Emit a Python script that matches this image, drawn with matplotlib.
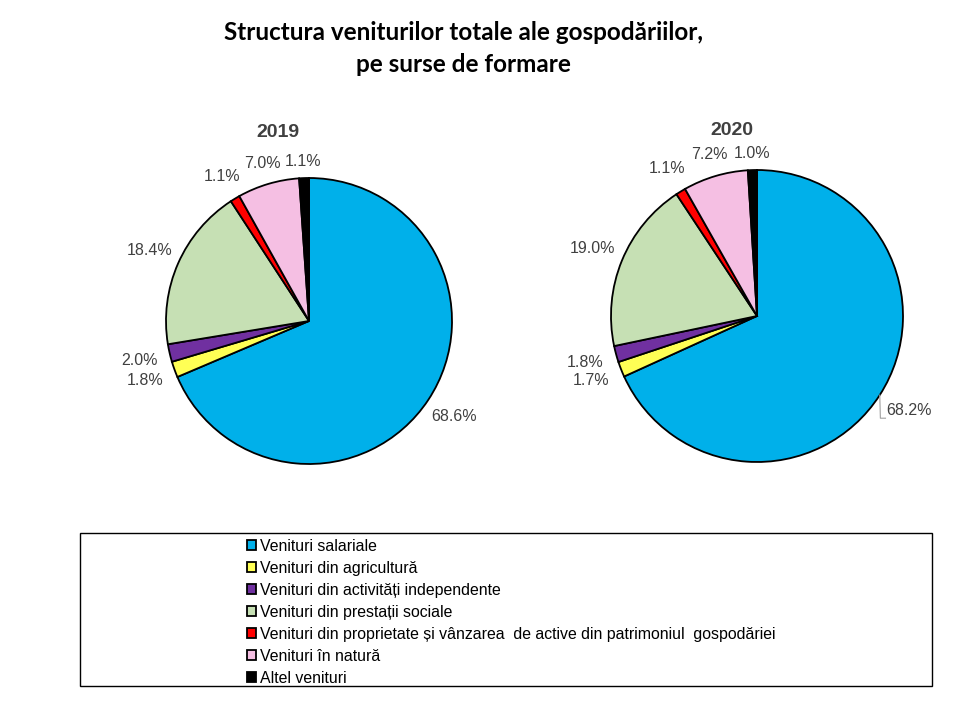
import numpy as np
import matplotlib
matplotlib.use('Agg')
from matplotlib import pyplot as plt
from matplotlib.patches import Rectangle

labels = ['Venituri salariale', 'Venituri din agricultură', 'Venituri din activități independente',
          'Venituri din prestații sociale',
          'Venituri din proprietate și vânzarea  de active din patrimoniul  gospodăriei',
          'Venituri în natură', 'Altel venituri']
years = ['2019', '2020']
values_2019 = [68.6, 1.8, 2.0, 18.4, 1.1, 7.0, 1.1]
values_2020 = [68.2, 1.7, 1.8, 19.0, 1.1, 7.2, 1.0]
colors = ['#00B0EA', '#FFFF55', '#7030A0', '#C6E0B4', '#FF0000', '#F5BFE3', '#000000']

W, H = 971, 704
fig = plt.figure(figsize=(W / 100, H / 100), dpi=100)
txtcol = '#404040'


def pie_axes(cx, cy, r):
    half = 1.5 * r
    ax = fig.add_axes([(cx - half) / W, (H - cy - half) / H, 2 * half / W, 2 * half / H])
    return ax


fig.text(463 / W, 1 - 33 / H, 'Structura veniturilor totale ale gospodăriilor,', ha='center', va='center',
         fontsize=17.5, fontweight='bold', family='Lato')
fig.text(463 / W, 1 - 65 / H, 'pe surse de formare', ha='center', va='center',
         fontsize=17.5, fontweight='bold', family='Lato')

wedges_first = None
for i, (vals, cx, cy, r, tx, ty) in enumerate([(values_2019, 309, 321, 143, -0.22, 1.32),
                                               (values_2020, 757, 316, 146, -0.17, 1.27)]):
    ax = pie_axes(cx, cy, r)
    wedges, texts, auto = ax.pie(vals, colors=colors, startangle=90, counterclock=False,
                                 autopct='%.1f%%', pctdistance=1.21, normalize=True,
                                 wedgeprops=dict(edgecolor='black', linewidth=1.3),
                                 textprops=dict(color=txtcol, fontsize=11.5, family='Liberation Sans'))
    ax.set_xlim(-1.5, 1.5)
    ax.set_ylim(-1.5, 1.5)
    ax.set_aspect('equal')
    ax.axis('off')
    if wedges_first is None:
        wedges_first = wedges
    # put each label just outside the circle, like a text box touching a ring
    for w, t in zip(wedges, auto):
        a = np.deg2rad((w.theta1 + w.theta2) / 2)
        d = 1.06 + 0.15 * abs(np.cos(a)) + 0.05 * abs(np.sin(a))
        t.set_position((d * np.cos(a), d * np.sin(a)))
    ax.text(tx, ty, years[i], ha='center', va='center', fontsize=14, fontweight='bold',
            color=txtcol, family='Liberation Sans')
    if i == 1:
        # leader line for the big slice
        t = auto[0]
        t.set_position((0.885, -0.645))
        t.set_ha('left')
        mid = np.deg2rad((wedges[0].theta1 + wedges[0].theta2) / 2)
        ax.plot([np.cos(mid), 0.845, 0.88], [np.sin(mid), -0.70, -0.70],
                color='#A0A0A0', lw=0.8)

fig.patches.append(Rectangle((80 / W, 1 - 686 / H), 852 / W, 153 / H, transform=fig.transFigure,
                             fill=False, edgecolor='black', linewidth=1))
fig.legend(wedges_first, labels, loc='upper left', bbox_to_anchor=(239 / W, 1 - 531 / H),
           frameon=False, handlelength=0.6, handleheight=0.6, handletextpad=0.2,
           labelspacing=0.44, borderpad=0, prop=dict(family='Liberation Sans', size=11.4))

fig.savefig('out.png', dpi=100)
